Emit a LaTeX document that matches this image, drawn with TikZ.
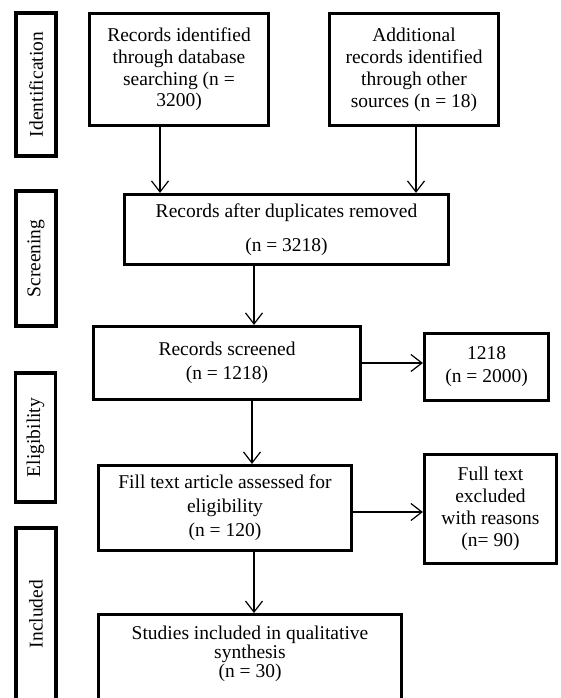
\documentclass[tikz,border=0pt]{standalone}
\usepackage{fontspec}
\setmainfont{Liberation Serif}
\usetikzlibrary{arrows.meta}
\newcommand\flowfont[1]{\fontsize{19.5}{#1}\selectfont}
\tikzset{
  phase/.style = {draw, line width=3.2pt, rotate=90, minimum height=40pt,
    inner sep=0pt, font=\flowfont{22}},
  stepbox/.style = {draw, line width=3.2pt, align=center, inner sep=0pt},
  flow/.style = {line width=1.2pt, -{Straight Barb[length=11pt,width=17pt]}},
}

\begin{document}
\begin{tikzpicture}[x=1pt, y=-1pt]
  \useasboundingbox (0,0) rectangle (560,698);

  \node [phase, minimum width=143pt] (ident)  at (36,84.5)  {Identification};
  \node [phase, minimum width=135pt] (screen) at (36,258.5) {Screening};
  \node [phase, minimum width=129pt] (elig)   at (35.5,437.5) {Eligibility};
  \node [phase, minimum width=172pt] (incl)   at (36,614)   {Included};

  \node [stepbox, minimum width=179pt, minimum height=112pt, font=\flowfont{21.7}]
    (dbrec) at (179,69.5) {Records identified\\through database\\searching (n =\\3200)};
  \node [stepbox, minimum width=169pt, minimum height=112pt, font=\flowfont{22}]
    (otherrec) at (414,69.5) {Additional\\records identified\\through other\\sources (n = 18)};
  \node [stepbox, minimum width=324pt, minimum height=70pt, font=\flowfont{34}]
    (dedup) at (286.5,229.5) {Records after duplicates removed\\(n = 3218)};
  \node [stepbox, minimum width=267pt, minimum height=73pt, font=\flowfont{24}]
    (screened) at (227,363) {Records screened\\(n = 1218)};
  \node [stepbox, minimum width=124pt, minimum height=67pt, font=\flowfont{23}]
    (dupl) at (486.5,367) {1218\\(n = 2000)};
  \node [stepbox, minimum width=253pt, minimum height=85pt, font=\flowfont{24}]
    (fulltext) at (225,508) {Fill text article assessed for\\eligibility\\(n = 120)};
  \node [stepbox, minimum width=132pt, minimum height=109pt, font=\flowfont{22}]
    (excluded) at (490.5,509) {Full text\\excluded\\with reasons\\(n= 90)};
  \node [stepbox, anchor=north, minimum width=303pt, minimum height=95pt,
    text depth=21pt, font=\flowfont{17.5}]
    (studies) at (250,613) {Studies included in qualitative\\synthesis\\(n = 30)};

  \draw [flow] ([xshift=-19pt]dbrec.south) -- ([xshift=-19pt]dbrec.south |- dedup.north);
  \draw [flow] ([xshift=2pt]otherrec.south) -- ([xshift=2pt]otherrec.south |- dedup.north);
  \draw [flow] ([xshift=-32.5pt]dedup.south) -- ([xshift=-32.5pt]dedup.south |- screened.north);
  \draw [flow] (screened.east) -- (screened.east -| dupl.west);
  \draw [flow] ([xshift=25pt]screened.south) -- ([xshift=25pt]screened.south |- fulltext.north);
  \draw [flow] ([yshift=-4pt]fulltext.east) -- ([yshift=-4pt]fulltext.east -| excluded.west);
  \draw [flow] ([xshift=29pt]fulltext.south) -- ([xshift=29pt]fulltext.south |- studies.north);

\end{tikzpicture}
\end{document}
